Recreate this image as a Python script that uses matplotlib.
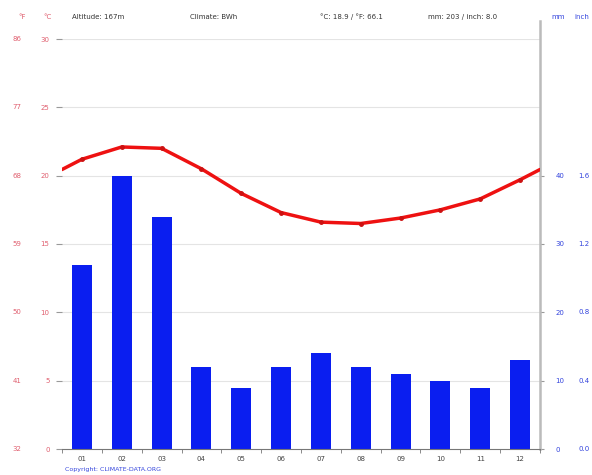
import matplotlib
matplotlib.use("Agg")
import matplotlib.pyplot as plt
import numpy as np

# ---------------------------------------------------------------------------
# Data
# ---------------------------------------------------------------------------
months = ["01", "02", "03", "04", "05", "06", "07", "08", "09", "10", "11", "12"]
temp_c = [21.2, 22.1, 22.0, 20.5, 18.7, 17.3, 16.6, 16.5, 16.9, 17.5, 18.3, 19.7]
precip_mm = [27, 40, 34, 12, 9, 12, 14, 12, 11, 10, 9, 13]

c_ticks = [0, 5, 10, 15, 20, 25, 30]
f_labels = ["32", "41", "50", "59", "68", "77", "86"]
mm_ticks = [0, 10, 20, 30, 40]
inch_labels = ["0.0", "0.4", "0.8", "1.2", "1.6"]

header_left = "Altitude: 167m"
header_climate = "Climate: BWh"
header_temp = "°C: 18.9 / °F: 66.1"
header_rain = "mm: 203 / inch: 8.0"

W, H = 592, 475
fig = plt.figure(figsize=(W / 100, H / 100), dpi=100)
fig.patch.set_facecolor("white")

ax = fig.add_axes([62 / W, (H - 449) / H, 478 / W, 410 / H])
ax2 = ax.twinx()
ax.set_zorder(ax2.get_zorder() + 1)
ax.patch.set_visible(False)

red_lbl = "#e06070"
blue_lbl = "#3344dd"
fs = 5

x = np.arange(12) + 0.5

# precipitation bars (grid drawn behind them on the same axes)
ax2.set_ylim(0, 60)
for val in c_ticks[1:]:
    ax2.axhline(val * 2, color="#e4e4e4", linewidth=0.8, zorder=0)
ax2.bar(x, precip_mm, width=0.5, color="#0a1ef0", zorder=2)
ax2.set_yticks(mm_ticks)
ax2.set_yticklabels([str(v) for v in mm_ticks], color=blue_lbl, fontsize=fs)
ax2.tick_params(axis="y", length=3, color="#999999", pad=8)
for val, lab in zip(mm_ticks, inch_labels):
    ax2.text(1.08, val, lab, transform=ax2.get_yaxis_transform(),
             color=blue_lbl, fontsize=fs, va="center", ha="left")

# temperature line, wrapped at the edges
edge = (temp_c[0] + temp_c[-1]) / 2
ax.plot(np.r_[0, x, 12], np.r_[edge, temp_c, edge], color="#ee1111",
        linewidth=2.5, zorder=5, solid_capstyle="round")
ax.plot(x, temp_c, "o", color="#cc1111", markersize=2.5, zorder=6)
ax.set_ylim(0, 30)
ax.set_xlim(0, 12)

ax.set_yticks(c_ticks)
ax.set_yticklabels([str(v) for v in c_ticks], color=red_lbl, fontsize=fs)
ax.tick_params(axis="y", length=4, color="#999999", pad=5)
for val, lab in zip(c_ticks, f_labels):
    ax.text(-0.085, val, lab, transform=ax.get_yaxis_transform(),
            color=red_lbl, fontsize=fs, va="center", ha="right")

ax.set_xticks(x)
ax.set_xticklabels(months, fontsize=fs, color="#444444")
ax.set_xticks(np.arange(13), minor=True)
ax.tick_params(axis="x", which="major", length=0, pad=5)
ax.tick_params(axis="x", which="minor", length=3, color="#777777")

for a in (ax, ax2):
    for s in a.spines.values():
        s.set_visible(False)
ax.spines["bottom"].set_visible(True)
ax.spines["bottom"].set_color("#777777")
ax.spines["bottom"].set_linewidth(0.8)

# right grey axis line reaching above the plot
ax.plot([12, 12], [0, 31.3], color="#bbbbbb", linewidth=1.8, clip_on=False, zorder=1)

# header
ty = 1 - 17 / H
fig.text(18 / W, ty, "°F", color=red_lbl, fontsize=fs, va="center")
fig.text(43 / W, ty, "°C", color=red_lbl, fontsize=fs, va="center")
fig.text(72 / W, ty, header_left, color="#333333", fontsize=fs, va="center")
fig.text(190 / W, ty, header_climate, color="#333333", fontsize=fs, va="center")
fig.text(320 / W, ty, header_temp, color="#333333", fontsize=fs, va="center")
fig.text(428 / W, ty, header_rain, color="#333333", fontsize=fs, va="center")
fig.text(551 / W, ty, "mm", color=blue_lbl, fontsize=fs, va="center")
fig.text(574 / W, ty, "inch", color=blue_lbl, fontsize=fs, va="center")

fig.text(65 / W, 1 - 470 / H, "Copyright: CLIMATE-DATA.ORG", color=blue_lbl,
         fontsize=4.5, va="center")

fig.savefig("out.png", dpi=100, facecolor="white")
